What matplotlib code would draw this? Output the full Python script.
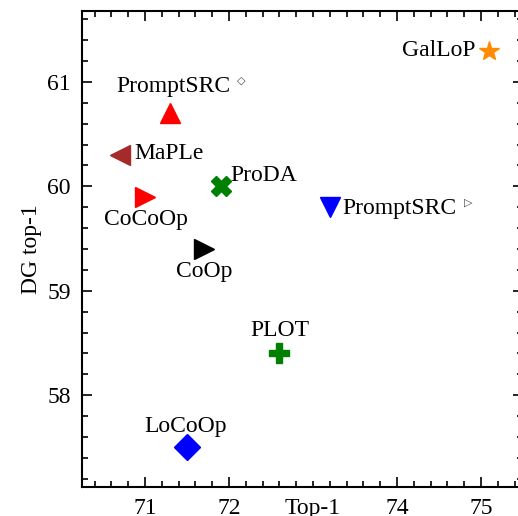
import matplotlib
matplotlib.use("Agg")
import matplotlib.pyplot as plt
from matplotlib.ticker import MultipleLocator

plt.rcParams['font.family'] = ['Liberation Serif', 'DejaVu Serif']

# data
methods = ["GalLoP", "PromptSRC", "MaPLe", "CoCoOp", "ProDA",
           "CoOp", "PromptSRC", "PLOT", "LoCoOp"]
marks = ["", "\u25c7", "", "", "", "", "\u25b7", "", ""]
top1 = [75.1, 71.3, 70.7, 71.0, 71.9, 71.7, 73.2, 72.6, 71.5]
dg_top1 = [61.3, 60.7, 60.3, 59.9, 60.0, 59.4, 59.8, 58.4, 57.5]

markers = ["*", "^", "<", ">", "X", ">", "v", "P", "D"]
colors = ["darkorange", "red", "brown", "red", "green", "black", "blue", "green", "blue"]
sizes = [15, 15, 15, 15, 14, 15, 15, 14, 13]
# text offset in pixels and alignment
offsets = [(-14, 0), (3, 27), (15, 2), (1, -23), (10, 11), (0, -23), (13, -1), (1, 23), (-1, 21)]
aligns = ["right", "center", "left", "center", "left", "center", "left", "center", "center"]

fig = plt.figure(figsize=(5.18, 5.16), dpi=100)
ax = fig.add_axes([82 / 518, 29 / 516, 441 / 518, 476 / 516])

for i in range(len(methods)):
    ax.plot(top1[i], dg_top1[i], marker=markers[i], color=colors[i],
            markersize=sizes[i], linestyle="none")
    t = ax.annotate(methods[i], (top1[i], dg_top1[i]), xytext=offsets[i],
                    textcoords="offset pixels", ha=aligns[i], va="center",
                    fontsize=17)
    if marks[i]:
        ax.annotate(marks[i], xy=(1, 0.75), xycoords=t, xytext=(7, 0),
                    textcoords="offset pixels", ha="left", va="center",
                    fontsize=8, color="#444444", family="DejaVu Sans")

ax.set_xlim(70.25, 75.5)
ax.set_ylim(57.12, 61.68)
ax.set_xticks([71, 72, 74, 75])
ax.set_yticks([58, 59, 60, 61])
ax.xaxis.set_minor_locator(MultipleLocator(0.2))
ax.yaxis.set_minor_locator(MultipleLocator(0.2))
ax.tick_params(which="both", direction="in", top=True, right=True, labelsize=17, width=1.2)
ax.tick_params(which="major", length=7, pad=8)
ax.tick_params(which="minor", length=4)
for s in ax.spines.values():
    s.set_linewidth(1.5)

ax.set_ylabel("DG top-1", fontsize=17)
ax.set_xlabel("Top-1", fontsize=17)
ax.xaxis.set_label_coords((73 - 70.25) / (75.5 - 70.25), -0.023)
ax.xaxis.label.set_va("top")

fig.savefig("out.png", dpi=100)
